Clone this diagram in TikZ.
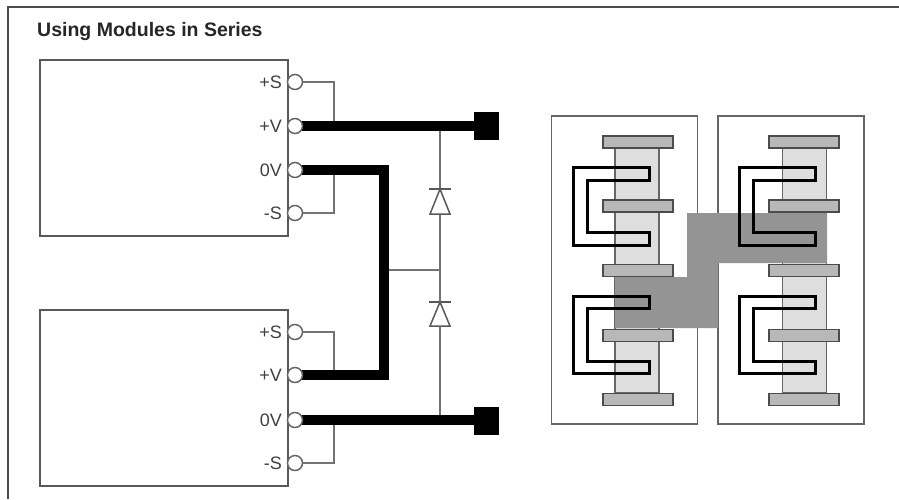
\documentclass[tikz,border=0pt]{standalone}
\usepackage{fontspec}
\setmainfont{Liberation Sans}

\tikzset{
    module/.style={draw=black!65, line width=1.6pt, minimum width=248pt, minimum height=176pt, inner sep=0pt},
    term/.style={circle, draw=black!60, fill=white, line width=1.5pt, minimum size=15pt, inner sep=0pt},
    termlabel/.style={text=black!75, font=\fontsize{18}{20}\selectfont, anchor=east, inner sep=0pt},
    sense/.style={draw=black!55, line width=1.5pt},
    power/.style={draw=black, line width=10pt},
    pad/.style={fill=black, minimum width=25pt, minimum height=28pt, inner sep=0pt},
    panel/.style={draw=black!60, line width=1.6pt, minimum width=146pt, minimum height=308pt, inner sep=0pt},
    core/.style={draw=black!60, fill=black!13, line width=1.2pt, minimum width=44pt, minimum height=245pt, inner sep=0pt},
    capbar/.style={draw=black!70, fill=black!28, line width=1.2pt, minimum width=70pt, minimum height=12pt, inner sep=0pt},
    winding/.style={draw=black, line width=3pt, line join=miter},
    diode/.style={draw=black!65, fill=white, line width=1.5pt},
}

\begin{document}
\begin{tikzpicture}[x=1pt,y=-1pt]

    \useasboundingbox (0,0) rectangle (899,499);

    \draw[draw=black!70, line width=1.5pt] (8,499) -- (8,7) -- (899,7);
    \node[font=\bfseries\fontsize{19.5}{22}\selectfont, text=black!85, anchor=west, inner sep=0pt] (title) at (37,31) {Using Modules in Series};

    \node[module] (mod1) at (164,148) {};
    \node[module] (mod2) at (164,398) {};

    \coordinate (bend) at (384,170);
    \coordinate (bendlow) at (384,375);
    \coordinate (mid) at (384,270);
    \coordinate (midd) at (440,270);
    \coordinate (tap1) at (440,126);
    \coordinate (tap2) at (440,420);
    \coordinate (sensevp1) at (334,126);
    \coordinate (sensevn1) at (334,170);
    \coordinate (sensevp2) at (334,375);
    \coordinate (sensevn2) at (334,420);
    \coordinate (sp1) at (295,82);
    \coordinate (vp1) at (295,126);
    \coordinate (vn1) at (295,170);
    \coordinate (sn1) at (295,213);
    \coordinate (sp2) at (295,332);
    \coordinate (vp2) at (295,375);
    \coordinate (vn2) at (295,420);
    \coordinate (sn2) at (295,463);

    \node[pad] (padtop) at (486.5,126) {};
    \node[pad] (padbot) at (486.5,420.5) {};

    % sense links
    \draw[sense] (sp1) -| (sensevp1);
    \draw[sense] (sn1) -| (sensevn1);
    \draw[sense] (sp2) -| (sensevp2);
    \draw[sense] (sn2) -| (sensevn2);

    % diodes
    \draw[sense] (tap1) -- (tap2);
    \draw[sense] (mid) -- (midd);
    \draw[diode] (430,214) -- (450,214) -- (440,189) -- cycle;
    \draw[diode] (429,189) -- (451,189);
    \draw[diode] (430,326) -- (450,326) -- (440,302) -- cycle;
    \draw[diode] (429,302) -- (451,302);

    % power links
    \draw[power] (vp1) -- (vp1 -| padtop.west);
    \draw[power] (vn2) -- (vn2 -| padbot.west);
    \draw[power, line join=miter] (vn1) -- (bend) -- (bendlow) -- (vp2);

    \node[term] (tsp1) at (sp1) {};
    \node[term] (tvp1) at (vp1) {};
    \node[term] (tvn1) at (vn1) {};
    \node[term] (tsn1) at (sn1) {};
    \node[term] (tsp2) at (sp2) {};
    \node[term] (tvp2) at (vp2) {};
    \node[term] (tvn2) at (vn2) {};
    \node[term] (tsn2) at (sn2) {};

    \node[termlabel] (lsp1) at (282,82) {+S};
    \node[termlabel] (lvp1) at (282,126) {+V};
    \node[termlabel] (lvn1) at (282,170) {0V};
    \node[termlabel] (lsn1) at (282,213) {-S};
    \node[termlabel] (lsp2) at (282,332) {+S};
    \node[termlabel] (lvp2) at (282,375) {+V};
    \node[termlabel] (lvn2) at (282,420) {0V};
    \node[termlabel] (lsn2) at (282,463) {-S};

    \node[panel] (pan1) at (624.5,270) {};
    \node[panel] (pan2) at (791,270) {};

    \node[core] (core1) at (637,270.5) {};
    \node[core] (core2) at (804.5,270.5) {};

    \node[capbar] (cap11) at (638,142) {};
    \node[capbar] (cap12) at (638,206) {};
    \node[capbar] (cap13) at (638,270.5) {};
    \node[capbar] (cap14) at (638,335.5) {};
    \node[capbar] (cap15) at (638,399.5) {};
    \node[capbar] (cap21) at (804,142) {};
    \node[capbar] (cap22) at (804,206) {};
    \node[capbar] (cap23) at (804,270.5) {};
    \node[capbar] (cap24) at (804,335.5) {};
    \node[capbar] (cap25) at (804,399.5) {};

    % link between the two boards
    \fill[black!42] (615,277) -- (687,277) -- (687,213) -- (827,213) -- (827,263) -- (718,263) -- (718,328) -- (615,328) -- cycle;

    \draw[winding] (649,167) -- (573,167) -- (573,245) -- (649,245) -- (649,232) -- (587,232) -- (587,180) -- (649,180) -- cycle;
    \draw[winding] (649,296) -- (573,296) -- (573,373) -- (649,373) -- (649,361) -- (587,361) -- (587,308) -- (649,308) -- cycle;
    \draw[winding] (815,167) -- (739,167) -- (739,245) -- (815,245) -- (815,232) -- (753,232) -- (753,180) -- (815,180) -- cycle;
    \draw[winding] (815,296) -- (739,296) -- (739,373) -- (815,373) -- (815,361) -- (753,361) -- (753,308) -- (815,308) -- cycle;

\end{tikzpicture}
\end{document}
